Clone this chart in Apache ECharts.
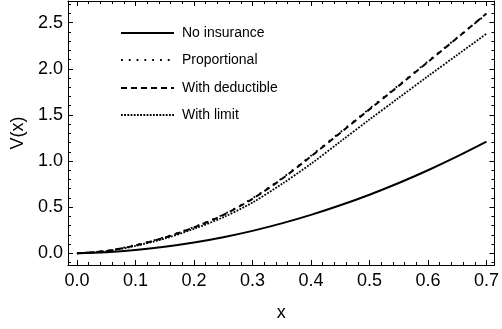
<!DOCTYPE html>
<html>
<head>
<meta charset="utf-8">
<script src="https://cdn.jsdelivr.net/npm/echarts@6/dist/echarts.min.js"></script>
<style>html,body{margin:0;padding:0;background:#fff;}#c{width:502px;height:329px;}</style>
</head>
<body>
<div id="c"></div>
<script>
const xs = [0,0.05,0.1,0.15,0.2,0.25,0.3,0.35,0.4,0.45,0.5,0.55,0.6,0.65,0.7];
const noInsurance  = [0,0.012,0.035,0.07,0.116,0.174,0.243,0.324,0.416,0.52,0.635,0.762,0.90,1.05,1.21];
const proportional = [0,0.027,0.09,0.175,0.285,0.42,0.597,0.812,1.058,1.313,1.568,1.823,2.081,2.339,2.593];
const deductible   = [0,0.025,0.085,0.17,0.28,0.415,0.59,0.805,1.05,1.305,1.56,1.815,2.075,2.335,2.60];
const withLimit    = [0,0.023,0.08,0.16,0.265,0.39,0.55,0.75,0.97,1.21,1.45,1.685,1.92,2.15,2.38];
const seriesNames = ['No insurance','Proportional','With deductible','With limit'];
const xTicks = [0,0.1,0.2,0.3,0.4,0.5,0.6,0.7];
const yTicks = [0,0.5,1.0,1.5,2.0,2.5];
const xMin = -0.0153, xMax = 0.7136, yMin = -0.127, yMax = 2.735;

const xMinor = []; for (let k = 0; k <= 35; k++) xMinor.push(k * 0.02);
const yMinor = []; for (let k = -1; k <= 27; k++) yMinor.push(k * 0.1);

const font = 'Liberation Sans, Arial, sans-serif';
const black = '#000';
function xAx(pos, ticks, len, labels, line) {
  return {
    type: 'value', position: pos, min: xMin, max: xMax,
    axisLine: {show: line, onZero: false, lineStyle: {color: black, width: 1}},
    axisTick: {show: true, inside: true, length: len, customValues: ticks, lineStyle: {color: black, width: 1}},
    axisLabel: labels ? {show: true, customValues: xTicks, margin: 7, color: black, fontSize: 18, fontFamily: font,
      formatter: v => v.toFixed(1)} : {show: false},
    splitLine: {show: false},
    name: labels ? 'x' : '', nameLocation: 'middle', nameGap: 39,
    nameTextStyle: {color: black, fontSize: 18, fontFamily: font}
  };
}
function yAx(pos, ticks, len, labels, line) {
  return {
    type: 'value', position: pos, min: yMin, max: yMax,
    axisLine: {show: line, onZero: false, lineStyle: {color: black, width: 1}},
    axisTick: {show: true, inside: true, length: len, customValues: ticks, lineStyle: {color: black, width: 1}},
    axisLabel: labels ? {show: true, customValues: yTicks, margin: 5, color: black, fontSize: 18, fontFamily: font,
      formatter: v => v.toFixed(1)} : {show: false},
    splitLine: {show: false},
    name: labels ? 'V(x)' : '', nameLocation: 'middle', nameGap: 41,
    nameTextStyle: {color: black, fontSize: 18, fontFamily: font}
  };
}
const pairs = arr => xs.map((x, i) => [x, arr[i]]);
const styles = [
  {width: 2, type: 'solid'},
  {width: 1.8, type: [1.8, 6]},
  {width: 2, type: [6, 4]},
  {width: 1.8, type: [1.8, 1.4]}
];
const dataSets = [noInsurance, proportional, deductible, withLimit];
const series = seriesNames.map((n, i) => ({
  name: n, type: 'line', xAxisIndex: 0, yAxisIndex: 0, data: pairs(dataSets[i]),
  smooth: 0.3, symbol: 'none', lineStyle: Object.assign({color: black, cap: 'butt'}, styles[i]),
  itemStyle: {color: black}, animation: false, z: 10 - i
}));
const legendTops = [21, 48, 76, 103];
const legends = seriesNames.map((n, i) => ({
  data: [n], left: 115, top: legendTops[i], orient: 'vertical',
  itemWidth: 53, itemHeight: 14, itemGap: 0,
  itemStyle: {color: 'rgba(0,0,0,0)', borderWidth: 0, opacity: 0},
  textStyle: {color: black, fontSize: 14, fontFamily: font, padding: [0, 0, 0, 3]},
  selectedMode: false
}));
const chart = echarts.init(document.getElementById('c'), null, {renderer: 'canvas'});
chart.setOption({
  animation: false,
  backgroundColor: '#fff',
  grid: {left: 68, right: 4, top: 1, bottom: 64, containLabel: false},
  xAxis: [
    xAx('bottom', xTicks, 5, true, true),
    xAx('bottom', xMinor, 3, false, false),
    xAx('top', xTicks, 5, false, true),
    xAx('top', xMinor, 3, false, false)
  ],
  yAxis: [
    yAx('left', yTicks, 5, true, true),
    yAx('left', yMinor, 3, false, false),
    yAx('right', yTicks, 5, false, true),
    yAx('right', yMinor, 3, false, false)
  ],
  legend: legends,
  series: series
});
</script>
</body>
</html>
